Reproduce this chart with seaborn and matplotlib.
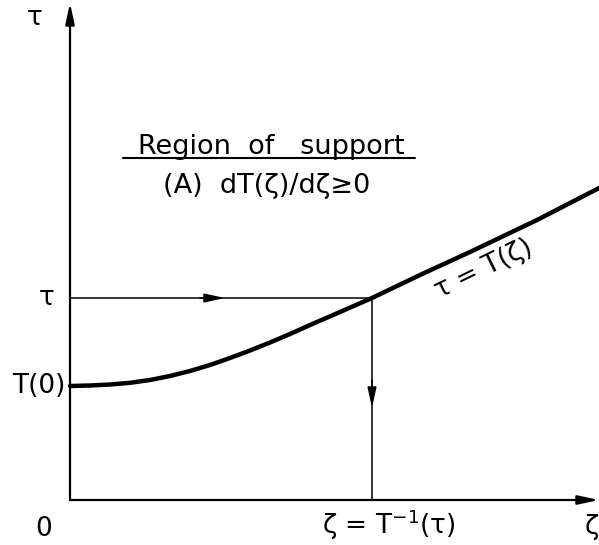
import matplotlib
matplotlib.use("Agg")
import matplotlib.pyplot as plt
import seaborn as sns
import pandas as pd

sns.set_style("white")
plt.rcParams["font.family"] = ["DejaVu Sans"]
plt.rcParams["mathtext.fontset"] = "dejavusans"
plt.rcParams["text.color"] = "black"

# Monotone transform tau = T(zeta), read as sample points
zeta = [0.00, 0.20, 0.40, 0.60, 0.80, 1.00, 1.20, 1.40, 1.60, 1.80, 2.00,
        2.20, 2.40, 2.70, 3.02, 3.50, 4.00, 4.67, 5.35]
T_vals = [1.14, 1.145, 1.155, 1.172, 1.20, 1.24, 1.29, 1.35, 1.42, 1.495, 1.575,
          1.66, 1.75, 1.88, 2.02, 2.25, 2.48, 2.80, 3.15]

T0 = 1.14          # T(0)
tau_level = 2.02   # chosen tau
zeta_star = 3.02   # zeta = T^{-1}(tau)

curve = pd.DataFrame({"zeta": zeta, "tau": T_vals})

fig = plt.figure(figsize=(5.99, 5.45), dpi=100)
ax = fig.add_axes([0, 0, 1, 1])
ax.set_xlim(-0.70, 5.29)
ax.set_ylim(-0.45, 5.00)
ax.axis("off")

# Transform curve
sns.lineplot(data=curve, x="zeta", y="tau", color="black", lw=3.2,
             sort=False, estimator=None, ax=ax, legend=False)

# Guide lines: tau -> curve -> zeta
guides_h = pd.DataFrame({"x": [0, zeta_star], "y": [tau_level, tau_level]})
guides_v = pd.DataFrame({"x": [zeta_star, zeta_star], "y": [tau_level, 0]})
sns.lineplot(data=guides_h, x="x", y="y", color="black", lw=1.1, ax=ax,
             sort=False, estimator=None)
sns.lineplot(data=guides_v, x="x", y="y", color="black", lw=1.1, ax=ax,
             sort=False, estimator=None)

def arrow(tip, tail, lw=1.4, hl=1.25, hw=0.27):
    ax.annotate("", xy=tip, xytext=tail,
                arrowprops=dict(arrowstyle=f"-|>,head_length={hl},head_width={hw}",
                                color="black", lw=lw, shrinkA=0, shrinkB=0,
                                mutation_scale=10))

# Axes with arrowheads
arrow((0, 4.97), (0, 0), lw=1.6)
arrow((5.29, 0), (0, 0), lw=1.6)

# Direction arrows on the guides
arrow((1.55, tau_level), (1.30, tau_level), lw=1.1)
arrow((zeta_star, 0.92), (zeta_star, 1.20), lw=1.1)

fs = 19
# Axis labels
ax.text(-0.35, 4.82, "τ", fontsize=fs, ha="center", va="center")
ax.text(5.29, -0.27, "ζ", fontsize=fs, ha="right", va="center")
ax.text(-0.26, -0.29, "0", fontsize=fs, ha="center", va="center")
ax.text(-0.23, tau_level, "τ", fontsize=fs, ha="center", va="center")
ax.text(-0.04, T0, "T(0)", fontsize=fs, ha="right", va="center")
ax.text(3.19, -0.25, "ζ = T$^{-1}$(τ)", fontsize=fs, ha="center", va="center")

# Curve label
ax.text(4.14, 2.31, "τ = T(ζ)", fontsize=fs, ha="center", va="center",
        rotation=26, rotation_mode="anchor")

# Region annotation
ax.text(2.01, 3.46, "Region  of   support", fontsize=19.5, ha="center",
        va="baseline")
ax.plot([0.53, 3.45], [3.425, 3.425], color="black", lw=1.5)
ax.text(1.965, 3.14, "(A)  dT(ζ)/dζ≥0", fontsize=19.5, ha="center", va="center")

fig.savefig("out.png", dpi=100)
